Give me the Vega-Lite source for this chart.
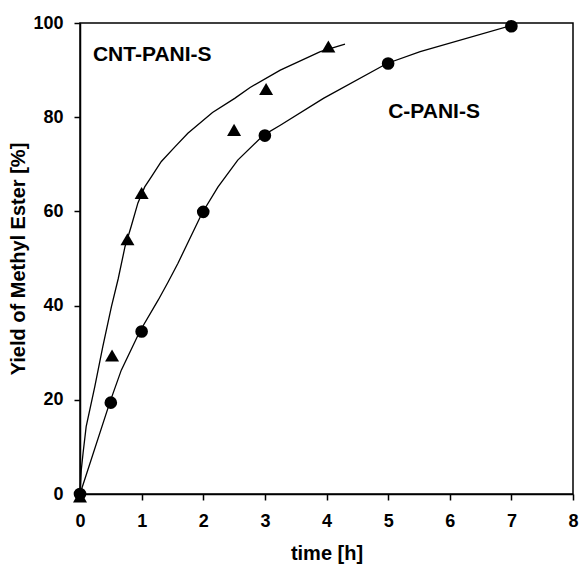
{
  "$schema": "https://vega.github.io/schema/vega-lite/v6.json",
  "width": 493,
  "height": 471,
  "autosize": {"type": "none"},
  "padding": {"left": 80, "top": 23, "right": 7, "bottom": 73},
  "background": "white",
  "config": {
    "view": {"stroke": "black", "strokeWidth": 1.5},
    "font": "Liberation Sans",
    "axis": {
      "grid": false,
      "domainColor": "black",
      "domainWidth": 1.5,
      "tickColor": "black",
      "tickWidth": 1.5,
      "tickSize": 6,
      "labelFont": "Liberation Sans",
      "labelFontWeight": "bold",
      "labelFontSize": 18,
      "labelColor": "black",
      "titleFont": "Liberation Sans",
      "titleFontWeight": "bold",
      "titleFontSize": 20,
      "titleColor": "black"
    }
  },
  "datasets": {
    "curves": [
      {"series": "CNT-PANI-S", "t": 0, "y": 0},
      {"series": "CNT-PANI-S", "t": 0.02, "y": 5},
      {"series": "CNT-PANI-S", "t": 0.05, "y": 8.7},
      {"series": "CNT-PANI-S", "t": 0.1, "y": 14.3},
      {"series": "CNT-PANI-S", "t": 0.24, "y": 22.8},
      {"series": "CNT-PANI-S", "t": 0.37, "y": 31.3},
      {"series": "CNT-PANI-S", "t": 0.51, "y": 39.8},
      {"series": "CNT-PANI-S", "t": 0.62, "y": 45.7},
      {"series": "CNT-PANI-S", "t": 0.73, "y": 52.5},
      {"series": "CNT-PANI-S", "t": 0.83, "y": 56.8},
      {"series": "CNT-PANI-S", "t": 0.94, "y": 61.8},
      {"series": "CNT-PANI-S", "t": 1.05, "y": 65.2},
      {"series": "CNT-PANI-S", "t": 1.16, "y": 67.4},
      {"series": "CNT-PANI-S", "t": 1.32, "y": 70.6},
      {"series": "CNT-PANI-S", "t": 1.54, "y": 73.7},
      {"series": "CNT-PANI-S", "t": 1.75, "y": 76.6},
      {"series": "CNT-PANI-S", "t": 2.15, "y": 81},
      {"series": "CNT-PANI-S", "t": 2.51, "y": 84},
      {"series": "CNT-PANI-S", "t": 2.76, "y": 86.3},
      {"series": "CNT-PANI-S", "t": 3.25, "y": 90},
      {"series": "CNT-PANI-S", "t": 3.9, "y": 93.9},
      {"series": "CNT-PANI-S", "t": 4.3, "y": 95.5},
      {"series": "C-PANI-S", "t": 0, "y": 0},
      {"series": "C-PANI-S", "t": 0.48, "y": 19.3},
      {"series": "C-PANI-S", "t": 0.67, "y": 26.3},
      {"series": "C-PANI-S", "t": 0.97, "y": 34.5},
      {"series": "C-PANI-S", "t": 1.27, "y": 41.2},
      {"series": "C-PANI-S", "t": 1.43, "y": 45},
      {"series": "C-PANI-S", "t": 1.59, "y": 49},
      {"series": "C-PANI-S", "t": 1.98, "y": 59.6},
      {"series": "C-PANI-S", "t": 2.24, "y": 65.2},
      {"series": "C-PANI-S", "t": 2.56, "y": 70.9},
      {"series": "C-PANI-S", "t": 2.98, "y": 76.2},
      {"series": "C-PANI-S", "t": 3.25, "y": 78.3},
      {"series": "C-PANI-S", "t": 3.95, "y": 84},
      {"series": "C-PANI-S", "t": 4.98, "y": 91.4},
      {"series": "C-PANI-S", "t": 5.52, "y": 93.9},
      {"series": "C-PANI-S", "t": 6.98, "y": 99.4}
    ],
    "points": [
      {"series": "C-PANI-S", "t": 0, "y": 0},
      {"series": "C-PANI-S", "t": 0.5, "y": 19.4},
      {"series": "C-PANI-S", "t": 1, "y": 34.5},
      {"series": "C-PANI-S", "t": 2, "y": 59.9},
      {"series": "C-PANI-S", "t": 3, "y": 76.1},
      {"series": "C-PANI-S", "t": 5, "y": 91.4},
      {"series": "C-PANI-S", "t": 7, "y": 99.3},
      {"series": "CNT-PANI-S", "t": 0, "y": -0.5},
      {"series": "CNT-PANI-S", "t": 0.52, "y": 29.4},
      {"series": "CNT-PANI-S", "t": 0.77, "y": 54.1},
      {"series": "CNT-PANI-S", "t": 1, "y": 63.9},
      {"series": "CNT-PANI-S", "t": 2.5, "y": 77.3},
      {"series": "CNT-PANI-S", "t": 3.02, "y": 86},
      {"series": "CNT-PANI-S", "t": 4.03, "y": 95}
    ],
    "labels": [
      {"label": "CNT-PANI-S", "t": 0.21, "y": 93.2},
      {"label": "C-PANI-S", "t": 5.0, "y": 81.1}
    ]
  },
  "encoding": {
    "x": {
      "field": "t", "type": "quantitative",
      "scale": {"domain": [0, 8], "nice": false, "zero": false},
      "axis": {"title": "time [h]", "values": [0,1,2,3,4,5,6,7,8], "labelPadding": 12, "titlePadding": 13, "labelFlush": false}
    },
    "y": {
      "field": "y", "type": "quantitative",
      "scale": {"domain": [0, 100], "nice": false, "zero": false},
      "axis": {"title": "Yield of Methyl Ester [%]", "values": [0,20,40,60,80,100], "labelPadding": 11, "titlePadding": 4, "labelFlush": false}
    }
  },
  "layer": [
    {
      "data": {"name": "curves"},
      "mark": {"type": "line", "color": "black", "strokeWidth": 1.3, "clip": false},
      "encoding": {"detail": {"field": "series"}}
    },
    {
      "data": {"name": "points"},
      "mark": {"type": "point", "filled": true, "opacity": 1, "color": "black"},
      "encoding": {
        "shape": {"field": "series", "type": "nominal", "scale": {"domain": ["C-PANI-S", "CNT-PANI-S"], "range": ["circle", "triangle-up"]}, "legend": null},
        "size": {"field": "series", "type": "nominal", "scale": {"domain": ["C-PANI-S", "CNT-PANI-S"], "range": [160, 196]}, "legend": null}
      }
    },
    {
      "data": {"name": "labels"},
      "mark": {"type": "text", "align": "left", "baseline": "middle", "fontSize": 21, "fontWeight": "bold", "font": "Liberation Sans", "color": "black"},
      "encoding": {"text": {"field": "label"}}
    }
  ]
}
